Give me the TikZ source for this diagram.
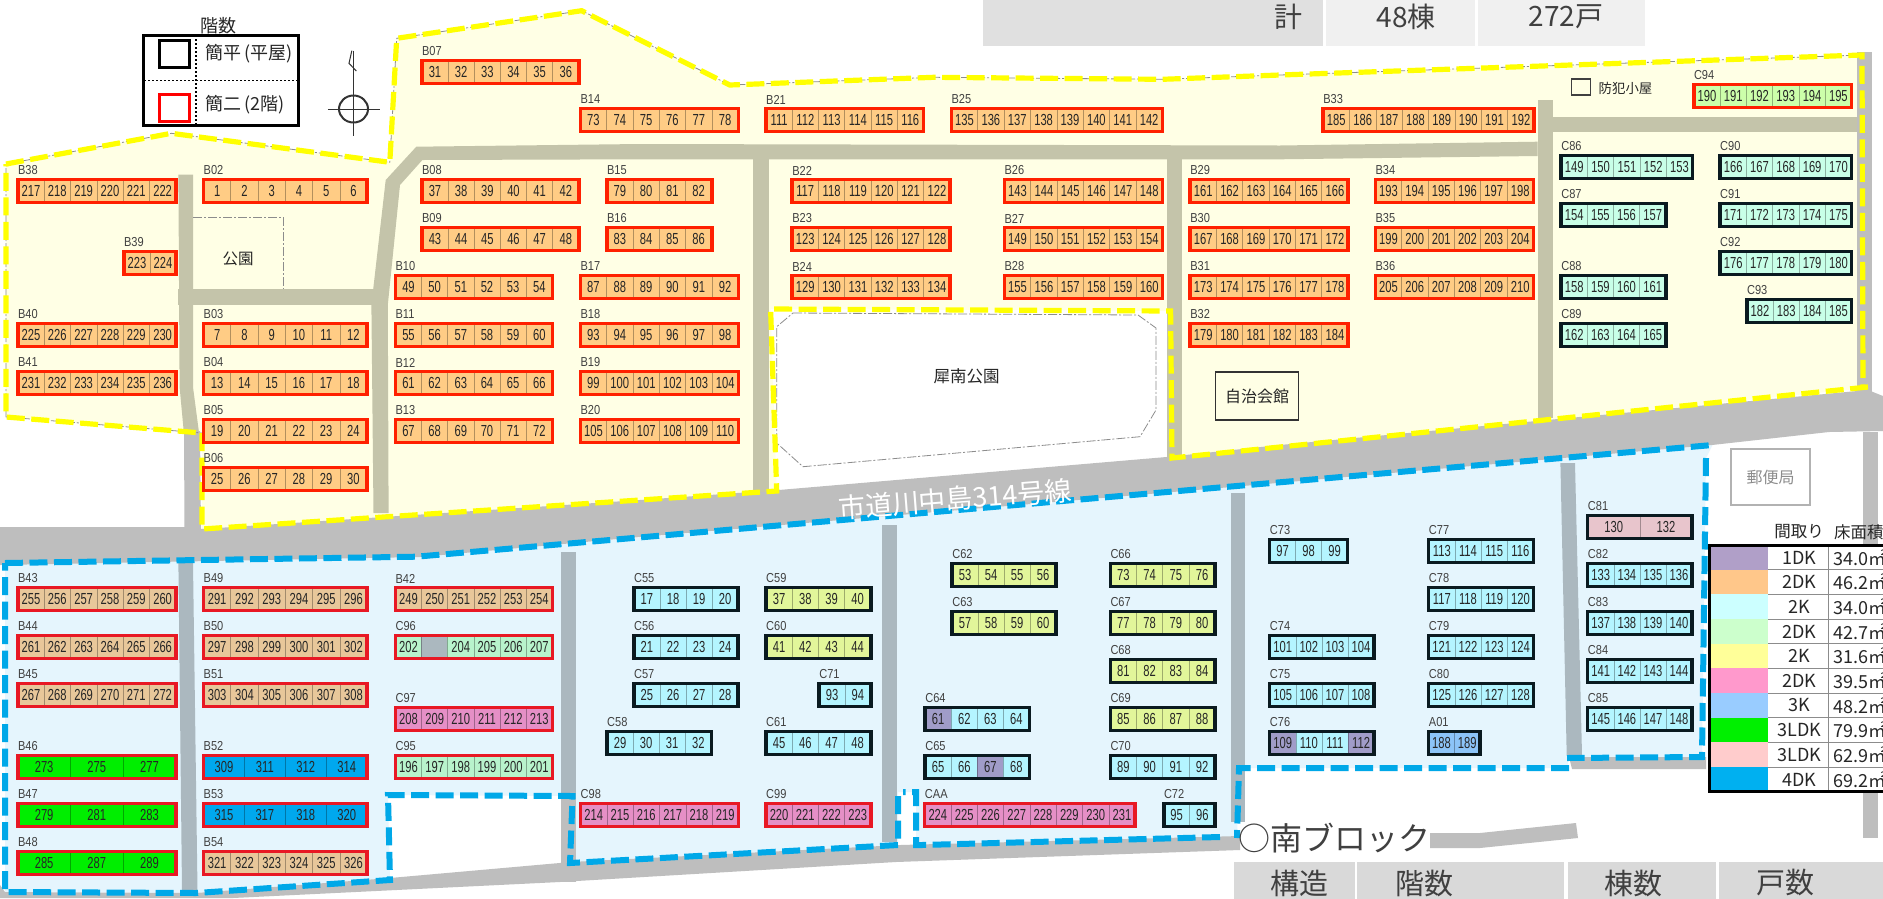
\documentclass[tikz,border=0pt]{standalone}
\usepackage{fontspec}
\newfontfamily\jp{Noto Sans CJK JP}
\newfontfamily\numf[FakeStretch=0.7]{Liberation Sans}
\newfontfamily\lblf[FakeStretch=0.85]{Liberation Sans}
\newcommand{\fsz}[1]{\fontsize{#1}{#1}\selectfont}
\definecolor{nfill}{HTML}{FFFFE5}
\definecolor{sfill}{HTML}{E5F5FD}
\definecolor{olive}{HTML}{C4C4AA}
\definecolor{roadg}{HTML}{BEBEBE}
\definecolor{roadb}{HTML}{ABB8BF}
\definecolor{yel}{HTML}{FFFF00}
\definecolor{blu}{HTML}{00A8E8}
\definecolor{nor}{HTML}{FFCC85}
\definecolor{nmi}{HTML}{C8FFE8}
\definecolor{ngr}{HTML}{CCFFAA}
\definecolor{tan}{HTML}{E8C79A}
\definecolor{pbl}{HTML}{B4F5FF}
\definecolor{sye}{HTML}{E2F69A}
\definecolor{pin}{HTML}{E58FC6}
\definecolor{sgr}{HTML}{B8F3CC}
\definecolor{pur}{HTML}{A09CC8}
\definecolor{tk}{HTML}{8CC4F8}
\definecolor{gre}{HTML}{00EE00}
\definecolor{ros}{HTML}{E8C5CC}
\definecolor{fdk}{HTML}{00A8EE}
\definecolor{txtd}{HTML}{404040}
\newcount\bn
\tikzset{
  lbl/.style={font=\lblf\fsz{13},text=txtd,inner sep=0pt,anchor=west},
  cellbox/.style={font=\numf\fsz{16},text=black!85,inner sep=0pt,outer sep=0pt,anchor=north west,line width=.6pt},
  frn/.style={draw={rgb,255:red,255;green,32;blue,0}},
  frs/.style={draw={rgb,255:red,232;green,24;blue,36}},
  frk/.style={draw={rgb,255:red,10;green,26;blue,32}},
  framebox/.style={line width=3.5pt,inner sep=0pt,outer sep=0pt,anchor=north west},
  ydash/.style={draw=yel,line width=5.2pt,dash pattern=on 18pt off 6.5pt,line join=miter},
  bdash/.style={draw=blu,line width=6pt,dash pattern=on 18pt off 6.5pt,line join=miter},
  thinline/.style={draw=black!45,line width=.8pt,dash pattern=on 9pt off 2pt on 2pt off 2pt},
  jptext/.style={font=\jp\fsz{#1},text=black!85,inner sep=0pt},
  greycell/.style={inner sep=0pt,outer sep=0pt,anchor=north west,minimum height=46pt}
}
% name, x, y, width, frame style, fill, list
\newcommand{\bld}[7]{%
  \node[lbl] (#1) at (#2+1.5,#3-7.5) {#1};
  \global\bn=0
  \foreach \v in {#7} {\global\advance\bn by 1}
  \pgfmathsetmacro{\cw}{(#4-3)/\the\bn}
  \foreach \v/\f [count=\c from 0] in {#7} {
    \def\cf{#6}\ifx\v\f\else\edef\cf{\f}\fi
    \node[cellbox,fill=\cf,draw=\cf!70!black,minimum width=\cw pt,minimum height=23pt]
      (#1-\c) at (#2+1.5+\c*\cw,#3+1.5) {\v};
  }
  \node[framebox,#5,minimum width=#4-3,minimum height=23pt] (#1-f) at (#2+1.5,#3+1.5) {};
}
\begin{document}
\begin{tikzpicture}[x=1pt,y=-1pt]
\path[use as bounding box] (0,0) rectangle (1883,898);
\clip (0,0) rectangle (1883,898);
\fill[white] (0,0) rectangle (1883,898);
% top table
\node[greycell,fill=black!12,minimum width=340pt] (tA) at (983,0) {};
\node[greycell,fill=black!6,minimum width=149pt] (tB) at (1326,0) {};
\node[greycell,fill=black!6,minimum width=167pt] (tC) at (1478,0) {};
\node[jptext=28,text=txtd] (t1) at (1288,17) {計};
\node[jptext=28,text=txtd] (t2) at (1406,17) {48棟};
\node[jptext=28,text=txtd] (t3) at (1566,17) {272戸};
% regions
\fill[nfill] (6,164)--(171.4,133.3)--(389.8,162.3)--(396.7,38.3)--(581.6,10.7)--(729.8,85)--(933.9,77.3)--(1162.4,79.3)--(1280,75)--(1862,55)--(1866,388)--(1172,458)--(1170.6,311)--(770.6,309)--(776.7,491)--(640,500)--(202,529)--(202,433)--(6,417)--cycle;
\fill[sfill] (5,563)--(416,556.7)--(1712.6,445)--(1706,458)--(1702,757)--(1567,758)--(1569,768)--(1239,768)--(1237,838)--(922,845)--(916,845)--(916,792)--(898,792)--(898,845)--(570,863)--(572.6,796)--(388,795)--(390,880)--(196,893)--(5,892)--cycle;
% main grey roads
\fill[roadg] (0,527)--(184,527)--(202,529)--(640,500)--(778.8,490)--(1166.5,457)--(1280,445)--(1868,390)--(1883,396)--(1883,431)--(1829,432)--(1712,445)--(1220,488)--(640,537)--(420,557)--(0,565)--cycle;
\fill[roadg] (1857,52)rectangle(1872,396);
\fill[roadg] (1863,432)rectangle(1877.5,838);
\fill[roadg] (184,431)--(200,431)--(201,530)--(184.5,530)--cycle;
\fill[roadg] (0,885)--(5,892)--(196,893)--(390,878)--(571,862)--(900,845)--(1240,836)--(1240,850)--(896,862)--(560,882)--(233,898)--(0,898)--cycle;
\fill[roadg] (1430,833)--(1480,833)--(1576,823)--(1578,838)--(1480,848)--(1430,848)--cycle;
\fill[roadg] (1569,757)--(1706,757)--(1706,769)--(1572,769)--cycle;
\fill[roadg] (561,793)rectangle(576,882);
% olive roads
\fill[olive] (178.4,174.7)--(193,174.7)--(193,387)--(198.8,431)--(183.7,431)--(179.6,387)--cycle;
\fill[olive] (178.4,289.3)rectangle(387.8,305);
\fill[olive] (371.4,305)--(385.7,180)--(416.3,146.7)--(640,144)--(1280,145.5)--(1537.7,141.7)--(1537.7,156)--(1280,159.3)--(640,159.3)--(422.4,160)--(400,185)--(387.8,305)--(388.6,513)--(373.5,513)--cycle;
\fill[olive] (753,159)rectangle(768.6,492);
\fill[olive] (1166.5,159)rectangle(1182,458);
\fill[olive] (1537.7,100)rectangle(1553,418);
\fill[olive] (1553,117)rectangle(1857,132);
% south roads
\fill[roadb] (178.4,563)--(193,563)--(197.5,890)--(182,890)--cycle;
\fill[roadb] (561,552)rectangle(575.5,793);
\fill[roadb] (882,525)rectangle(896.7,842);
\fill[roadb] (1230.6,493)rectangle(1245.4,822);
\fill[roadb] (1560.4,463)--(1575,463)--(1582,755)--(1566.7,755)--cycle;
% parks
\draw[thinline] (793,313)--(1138,315)--(1156,328)--(1156,410)--(1140,436.7)--(803,466.7)--(776.7,443)--(776.7,326.7)--cycle;
\node[jptext=16.5] (park1) at (966.5,376.7) {犀南公園};
\draw[thinline] (193,217.7)--(283.7,217.7)--(283.7,289.3);
\node[jptext=15.5] (park2) at (238,259) {公園};
% boundaries
\draw[thinline] (6,417)--(6,164)--(171.4,133.3)--(389.8,162.3)--(396.7,38.3)--(581.6,10.7)--(729.8,85)--(933.9,77.3)--(1162.4,79.3)--(1280,75)--(1862,55);
\draw[thinline] (6,417)--(202,433);
\draw[ydash] (6,164)--(171.4,133.3)--(389.8,162.3)--(396.7,38.3)--(581.6,10.7)--(729.8,85)--(933.9,77.3)--(1162.4,79.3)--(1280,75)--(1862,55)--(1863,388);
\draw[ydash] (1868,387)--(1172,458)--(1170.6,311)--(770.6,309)--(776.7,491)--(640,500)--(202,529)--(202,433)--(6,417)--(6,164);
\draw[bdash] (5,563)--(416,556.7)--(1712.6,445);
\draw[bdash] (1706,458)--(1702,757)--(1567,758);
\draw[bdash] (1569,768)--(1239,768)--(1237,838);
\draw[bdash] (1220,837)--(922,845)--(916,845)--(916,792)--(903,792);
\draw[bdash] (898,796)--(898,845)--(570,863)--(572.6,796)--(388,795)--(390,880)--(196,893)--(5,892)--(5,563);
% road name
\node[jptext=27,text=white,rotate=4.5] (roadname) at (955,499) {市道川中島314号線};
% facilities
\node[draw=black!80,line width=1.2pt,fill=nfill,minimum width=83pt,minimum height=48pt,inner sep=0pt,font=\jp\fsz{16},text=black!85] (hall) at (1257,396) {自治会館};
\node[draw=black!75,line width=1.2pt,minimum width=19pt,minimum height=16pt,inner sep=0pt] (hut) at (1581,87) {};
\node[jptext=13.4,anchor=west] (hutlabel) at (1598.5,88.7) {防犯小屋};
\node[draw=black!30,line width=1.2pt,fill=white,minimum width=79pt,minimum height=56pt,inner sep=0pt,font=\jp\fsz{16},text=black!45] (post) at (1770.5,477) {郵便局};
% floors legend
\node[jptext=18] (fl) at (218.4,26) {階数};
\node[draw=black,line width=3pt,fill=white,minimum width=155pt,minimum height=90pt,inner sep=0pt,outer sep=0pt] (flbox) at (221,80.5) {};
\draw[black,line width=1.5pt,dash pattern=on 2pt off 2pt] (196,35)--(196,126);
\draw[black,line width=1.5pt,dash pattern=on 2pt off 2pt] (144,80.3)--(298,80.3);
\node[draw=black,line width=3pt,minimum width=30pt,minimum height=27pt,inner sep=0pt] (flk) at (174,53.5) {};
\node[draw=red,line width=3pt,minimum width=30pt,minimum height=27pt,inner sep=0pt] (flr) at (174,107.5) {};
\node[jptext=18,anchor=west] (flt1) at (205,53.3) {簡平\,(平屋)};
\node[jptext=18,anchor=west] (flt2) at (205,105) {簡二\,(2階)};
% compass
\coordinate (cpc) at (353.5,109);
\draw[black!80,line width=2pt] (cpc) ellipse (14.5pt and 13.5pt);
\draw[black!80,line width=1pt] (327.8,109)--(380.4,109);
\draw[black!80,line width=1pt] (353.5,50.7)--(353.5,136);
\draw[black!80,line width=1pt] (351.8,50.7)--(349,63.3)--(356.3,71);
% north blocks
\bld{B38}{16.3}{178}{161}{frn}{nor}{217,218,219,220,221,222}
\bld{B39}{122.4}{250}{55.2}{frn}{nor}{223,224}
\bld{B40}{16.3}{322}{161}{frn}{nor}{225,226,227,228,229,230}
\bld{B41}{16.3}{370}{161}{frn}{nor}{231,232,233,234,235,236}
\bld{B02}{202}{178}{166.6}{frn}{nor}{1,2,3,4,5,6}
\bld{B03}{202}{322}{166.6}{frn}{nor}{7,8,9,10,11,12}
\bld{B04}{202}{370}{166.6}{frn}{nor}{13,14,15,16,17,18}
\bld{B05}{202}{418}{166.6}{frn}{nor}{19,20,21,22,23,24}
\bld{B06}{202}{466}{166.6}{frn}{nor}{25,26,27,28,29,30}
\bld{B07}{420.4}{59}{160}{frn}{nor}{31,32,33,34,35,36}
\bld{B08}{420.4}{178}{160}{frn}{nor}{37,38,39,40,41,42}
\bld{B09}{420.4}{226}{160}{frn}{nor}{43,44,45,46,47,48}
\bld{B10}{393.9}{274}{160}{frn}{nor}{49,50,51,52,53,54}
\bld{B11}{393.9}{322}{160}{frn}{nor}{55,56,57,58,59,60}
\bld{B12}{393.9}{370}{160}{frn}{nor}{61,62,63,64,65,66}
\bld{B13}{393.9}{418}{160}{frn}{nor}{67,68,69,70,71,72}
\bld{B14}{578.8}{107}{161}{frn}{nor}{73,74,75,76,77,78}
\bld{B15}{605.3}{178}{108}{frn}{nor}{79,80,81,82}
\bld{B16}{605.3}{226}{108}{frn}{nor}{83,84,85,86}
\bld{B17}{578.8}{274}{161}{frn}{nor}{87,88,89,90,91,92}
\bld{B18}{578.8}{322}{161}{frn}{nor}{93,94,95,96,97,98}
\bld{B19}{578.8}{370}{161}{frn}{nor}{99,100,101,102,103,104}
\bld{B20}{578.8}{418}{161}{frn}{nor}{105,106,107,108,109,110}
\bld{B21}{764.5}{107}{160.4}{frn}{nor}{111,112,113,114,115,116}
\bld{B22}{790.6}{178}{161}{frn}{nor}{117,118,119,120,121,122}
\bld{B23}{790.6}{226}{161}{frn}{nor}{123,124,125,126,127,128}
\bld{B24}{790.6}{274}{161}{frn}{nor}{129,130,131,132,133,134}
\bld{B25}{949.8}{107}{214}{frn}{nor}{135,136,137,138,139,140,141,142}
\bld{B26}{1002.9}{178}{161}{frn}{nor}{143,144,145,146,147,148}
\bld{B27}{1002.9}{226}{161}{frn}{nor}{149,150,151,152,153,154}
\bld{B28}{1002.9}{274}{161}{frn}{nor}{155,156,157,158,159,160}
\bld{B29}{1188.6}{178}{161}{frn}{nor}{161,162,163,164,165,166}
\bld{B30}{1188.6}{226}{161}{frn}{nor}{167,168,169,170,171,172}
\bld{B31}{1188.6}{274}{161}{frn}{nor}{173,174,175,176,177,178}
\bld{B32}{1188.6}{322}{161}{frn}{nor}{179,180,181,182,183,184}
\bld{B33}{1321.6}{107}{214}{frn}{nor}{185,186,187,188,189,190,191,192}
\bld{B34}{1373.8}{178}{161}{frn}{nor}{193,194,195,196,197,198}
\bld{B35}{1373.8}{226}{161}{frn}{nor}{199,200,201,202,203,204}
\bld{B36}{1373.8}{274}{161}{frn}{nor}{205,206,207,208,209,210}
\bld{C86}{1559.6}{154}{134.6}{frk}{nmi}{149,150,151,152,153}
\bld{C87}{1559.6}{202}{107.7}{frk}{nmi}{154,155,156,157}
\bld{C88}{1559.6}{274}{107.7}{frk}{nmi}{158,159,160,161}
\bld{C89}{1559.6}{322}{107.7}{frk}{nmi}{162,163,164,165}
\bld{C90}{1718.5}{154}{134.6}{frk}{nmi}{166,167,168,169,170}
\bld{C91}{1718.5}{202}{134.6}{frk}{nmi}{171,172,173,174,175}
\bld{C92}{1718.5}{250}{134.6}{frk}{nmi}{176,177,178,179,180}
\bld{C93}{1745.4}{298}{107.7}{frk}{nmi}{182,183,184,185}
\bld{C94}{1692.3}{83}{160.7}{frn}{ngr}{190,191,192,193,194,195}
% south blocks
\bld{B43}{16.3}{586}{161}{frs}{tan}{255,256,257,258,259,260}
\bld{B44}{16.3}{634}{161}{frs}{tan}{261,262,263,264,265,266}
\bld{B45}{16.3}{682}{161}{frs}{tan}{267,268,269,270,271,272}
\bld{B46}{16.3}{754}{161}{frs}{gre}{273,275,277}
\bld{B47}{16.3}{802}{161}{frs}{gre}{279,281,283}
\bld{B48}{16.3}{850}{161}{frs}{gre}{285,287,289}
\bld{B49}{202}{586}{166.6}{frs}{tan}{291,292,293,294,295,296}
\bld{B50}{202}{634}{166.6}{frs}{tan}{297,298,299,300,301,302}
\bld{B51}{202}{682}{166.6}{frs}{tan}{303,304,305,306,307,308}
\bld{B52}{202}{754}{166.6}{frs}{fdk}{309,311,312,314}
\bld{B53}{202}{802}{166.6}{frs}{fdk}{315,317,318,320}
\bld{B54}{202}{850}{166.6}{frs}{tan}{321,322,323,324,325,326}
\bld{B42}{393.9}{586}{160}{frs}{tan}{249,250,251,252,253,254}
\bld{C96}{393.9}{634}{160}{frs}{sgr}{202,/roadb,204,205,206,207}
\bld{C97}{393.9}{706}{160}{frs}{pin}{208,209,210,211,212,213}
\bld{C95}{393.9}{754}{160}{frs}{sgr}{196,197,198,199,200,201}
\bld{C55}{632.4}{586}{107.3}{frk}{pbl}{17,18,19,20}
\bld{C56}{632.4}{634}{107.3}{frk}{pbl}{21,22,23,24}
\bld{C57}{632.4}{682}{107.3}{frk}{pbl}{25,26,27,28}
\bld{C58}{605.5}{730}{107.3}{frk}{pbl}{29,30,31,32}
\bld{C59}{764.5}{586}{107.8}{frk}{sye}{37,38,39,40}
\bld{C60}{764.5}{634}{107.8}{frk}{sye}{41,42,43,44}
\bld{C71}{817.6}{682}{54.7}{frk}{pbl}{93,94}
\bld{C61}{764.5}{730}{107.8}{frk}{pbl}{45,46,47,48}
\bld{C98}{579}{802}{161}{frs}{pin}{214,215,216,217,218,219}
\bld{C99}{764.5}{802}{107.8}{frs}{pin}{220,221,222,223}
\bld{CAA}{923.2}{802}{213.4}{frs}{pin}{224,225,226,227,228,229,230,231}
\bld{C72}{1162.3}{802}{54.3}{frk}{pbl}{95,96}
\bld{C62}{950.6}{562}{107}{frk}{sye}{53,54,55,56}
\bld{C63}{950.6}{610}{107}{frk}{sye}{57,58,59,60}
\bld{C64}{923.6}{706}{107.4}{frk}{pbl}{61/pur,62,63,64}
\bld{C65}{923.6}{754}{107.4}{frk}{pbl}{65,66,67/pur,68}
\bld{C66}{1108.8}{562}{107.8}{frk}{sye}{73,74,75,76}
\bld{C67}{1108.8}{610}{107.8}{frk}{sye}{77,78,79,80}
\bld{C68}{1108.8}{658}{107.8}{frk}{sye}{81,82,83,84}
\bld{C69}{1108.8}{706}{107.8}{frk}{sye}{85,86,87,88}
\bld{C70}{1108.8}{754}{107.8}{frk}{pbl}{89,90,91,92}
\bld{C73}{1268.2}{538}{80.8}{frk}{pbl}{97,98,99}
\bld{C74}{1268.2}{634}{107.4}{frk}{pbl}{101,102,103,104}
\bld{C75}{1268.2}{682}{107.4}{frk}{pbl}{105,106,107,108}
\bld{C76}{1268.2}{730}{107.4}{frk}{pbl}{109/pur,110,111,112/pur}
\bld{C77}{1427.2}{538}{107.8}{frk}{pbl}{113,114,115,116}
\bld{C78}{1427.2}{586}{107.8}{frk}{pbl}{117,118,119,120}
\bld{C79}{1427.2}{634}{107.8}{frk}{pbl}{121,122,123,124}
\bld{C80}{1427.2}{682}{107.8}{frk}{pbl}{125,126,127,128}
\bld{A01}{1427.2}{730}{54.5}{frk}{tk}{188,189}
\bld{C81}{1586.2}{514}{107.4}{frk}{ros}{130,132}
\bld{C82}{1586.2}{562}{107.4}{frk}{pbl}{133,134,135,136}
\bld{C83}{1586.2}{610}{107.4}{frk}{pbl}{137,138,139,140}
\bld{C84}{1586.2}{658}{107.4}{frk}{pbl}{141,142,143,144}
\bld{C85}{1586.2}{706}{107.4}{frk}{pbl}{145,146,147,148}
% plan legend
\node[jptext=16.5] (lh1) at (1799,532) {間取り};
\node[jptext=16.5,anchor=west] (lh2) at (1834,532) {床面積};
\fill[white] (1709,544) rectangle (1883,792);
\foreach \yy/\cc/\pp/\aa [count=\i from 0] in {
  545/B09FC8/1DK/34.0,569.7/FFC78A/2DK/46.2,594.3/CCFFFF/2K/34.0,619/CCFFCC/2DK/42.7,
  643.7/FFFF99/2K/31.6,668.3/FF99CC/2DK/39.5,693/99CCFF/3K/48.2,717.7/00F000/3LDK/79.9,
  742.3/FFCCCC/3LDK/62.9,767/00B0F0/4DK/69.2}{
  \definecolor{rowc}{HTML}{\cc}
  \node[inner sep=0pt,outer sep=0pt,anchor=north west,fill=rowc,minimum width=58pt,minimum height=24.7pt] (lc\i) at (1710,\yy) {};
  \node[jptext=18] (lp\i) at (1799.5,\yy+12.5) {\pp};
  \node[jptext=18,anchor=west] (la\i) at (1833,\yy+12.5) {\aa ㎡};
  \draw[black!45,line width=.7pt] (1768.4,\yy)--(1883,\yy);
}
\draw[black!45,line width=.7pt] (1828,545)--(1828,791);
\draw[black,line width=3pt] (1890,545)--(1709.5,545)--(1709.5,791.5)--(1890,791.5);
% south heading and table
\node[jptext=32,text=txtd,anchor=west] (south) at (1238,838) {○南ブロック};
\node[inner sep=0pt,outer sep=0pt,anchor=north west,fill=black!15,minimum width=121pt,minimum height=37pt] (b1) at (1233.5,861.7) {};
\node[inner sep=0pt,outer sep=0pt,anchor=north west,fill=black!15,minimum width=207pt,minimum height=37pt] (b2) at (1357.4,861.7) {};
\node[inner sep=0pt,outer sep=0pt,anchor=north west,fill=black!15,minimum width=148pt,minimum height=37pt] (b3) at (1568,861.7) {};
\node[inner sep=0pt,outer sep=0pt,anchor=north west,fill=black!15,minimum width=164pt,minimum height=37pt] (b4) at (1719,861.7) {};
\node[jptext=29,text=txtd] (b1t) at (1299,883) {構造};
\node[jptext=29,text=txtd] (b2t) at (1424,883) {階数};
\node[jptext=29,text=txtd] (b3t) at (1633.5,883) {棟数};
\node[jptext=29,text=txtd] (b4t) at (1785,883) {戸数};
\end{tikzpicture}
\end{document}
